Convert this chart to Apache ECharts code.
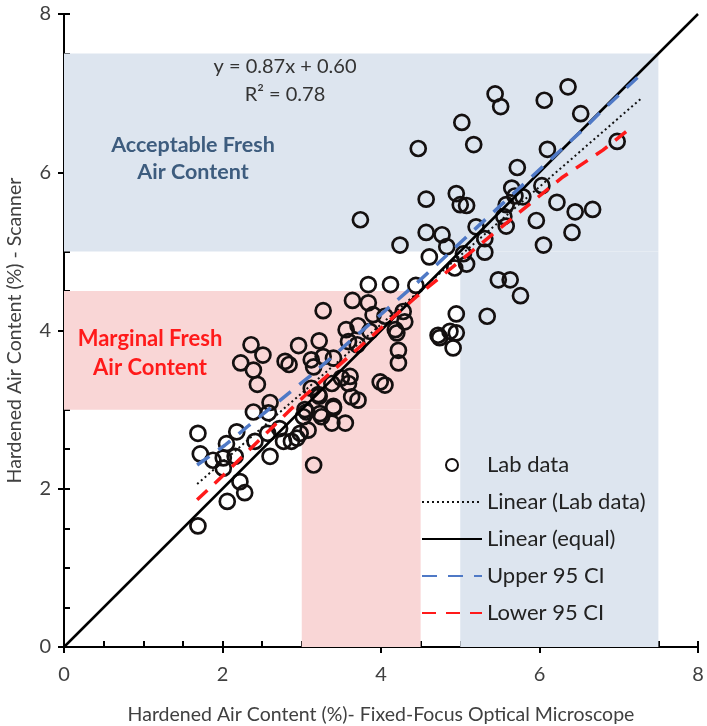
<!DOCTYPE html>
<html>
<head>
<meta charset="utf-8">
<script src="https://cdn.jsdelivr.net/npm/echarts@6/dist/echarts.min.js"></script>
<style>
html,body{margin:0;padding:0;background:#fff;}
#chart{width:707px;height:726px;}
</style>
</head>
<body>
<div id="chart"></div>
<script>
// ---- data ----
const labX = [1.69,1.72,1.88,2.01,2.05,2.01,2.16,2.18,2.22,2.28,2.06,1.69,2.41,2.57,2.60,2.72,2.77,2.87,2.94,2.98,
  3.02,3.04,3.08,3.15,3.12,3.21,3.23,3.40,3.38,3.38,2.44,2.60,2.39,2.58,2.36,2.51,2.23,2.39,
  3.84,4.12,4.44,3.27,3.64,3.84,3.90,4.05,4.28,4.30,4.18,4.20,3.56,3.71,3.86,3.59,3.70,3.22,2.96,2.79,2.84,3.12,
  3.15,3.27,3.40,4.22,4.22,3.50,3.61,3.59,3.99,4.05,3.22,3.63,3.71,3.40,3.25,3.06,3.55,
  5.44,5.51,6.06,6.36,6.52,5.02,4.47,5.17,6.10,6.98,5.72,4.57,4.95,5.00,5.08,5.65,5.69,5.79,6.03,5.58,
  6.22,6.45,6.67,5.55,5.58,5.96,6.41,4.57,4.77,5.20,5.31,6.05,4.24,4.83,3.74,4.61,4.93,5.08,5.04,5.31,
  5.48,5.63,5.76,4.95,5.34,4.72,4.74,4.87,4.95,4.91];
const labY = [2.70,2.44,2.36,2.39,2.57,2.26,2.41,2.72,2.09,1.95,1.84,1.53,2.60,2.70,2.41,2.76,2.60,2.60,2.64,2.70,
  2.91,3.00,2.74,2.30,3.27,3.19,2.95,3.02,2.83,3.33,3.32,3.09,2.97,2.96,3.82,3.69,3.59,3.50,
  4.58,4.58,4.57,4.25,4.38,4.35,4.20,4.18,4.24,4.11,4.01,3.97,4.01,4.06,3.99,3.86,3.82,3.87,3.81,3.61,3.57,3.63,
  3.54,3.67,3.65,3.75,3.59,3.40,3.42,3.33,3.35,3.31,3.17,3.16,3.12,3.04,2.91,2.97,2.83,
  6.99,6.83,6.91,7.08,6.74,6.63,6.30,6.35,6.29,6.39,6.06,5.66,5.73,5.59,5.58,5.80,5.70,5.69,5.83,5.59,
  5.62,5.50,5.53,5.44,5.32,5.39,5.24,5.24,5.21,5.31,5.16,5.08,5.08,5.06,5.40,4.93,4.79,4.84,4.97,4.99,
  4.64,4.64,4.44,4.21,4.18,3.94,3.91,3.99,3.97,3.78];

const fitX = [1.68, 7.28];
const fitY = [2.06, 6.93];
const equalX = [0, 8];
const equalY = [0, 8];
const upperX = [1.68, 2.03, 2.32, 3.10, 4.43, 5.54, 6.55, 6.76, 7.27];
const upperY = [2.30, 2.55, 2.79, 3.42, 4.58, 5.61, 6.54, 6.75, 7.23];
const lowerX = [1.68, 2.01, 2.51, 3.02, 4.45, 6.28, 6.80, 7.19];
const lowerY = [1.86, 2.17, 2.66, 3.16, 4.43, 5.93, 6.28, 6.59];

// zones: [x1, y1, x2, y2]
const acceptableZones = [[0, 5, 7.5, 7.5], [5, 0, 7.5, 5]];
const marginalZones = [[0, 3, 4.5, 4.5], [3, 0, 4.5, 3]];

const xTicks = [0, 2, 4, 6, 8];
const yTicks = [0, 2, 4, 6, 8];

const seriesNames = ['Lab data', 'Linear (Lab data)', 'Linear (equal)', 'Upper 95 CI', 'Lower 95 CI'];
const equationText = 'y = 0.87x + 0.60';
const r2Text = 'R\u00B2 = 0.78';
const acceptableText = 'Acceptable Fresh\nAir Content';
const marginalText = 'Marginal Fresh\nAir Content';
const xTitle = 'Hardened Air Content (%)- Fixed-Focus Optical Microscope';
const yTitle = 'Hardened Air Content (%) - Scanner';

// ---- build ----
const zip = (a, b) => a.map((v, i) => [v, b[i]]);
const zoneData = (zones, color) => zones.map(z => [
  { coord: [z[0], z[1]], itemStyle: { color: color } },
  { coord: [z[2], z[3]] }
]);

const FONT = 'Lato';
const chart = echarts.init(document.getElementById('chart'), null, { renderer: 'canvas' });

const axisCommon = {
  min: 0, max: 8, interval: 2,
  axisLine: { show: true, lineStyle: { color: '#000', width: 2 } },
  axisTick: { show: true, inside: false, length: 6, lineStyle: { color: '#000', width: 2 } },
  splitLine: { show: false },
  nameTextStyle: { fontFamily: FONT, fontSize: 19.5, color: '#404040' },
  nameLocation: 'middle'
};
const minorAxis = {
  min: 0, max: 8, interval: 0.5,
  axisLine: { show: false },
  axisTick: { show: true, inside: true, length: 6, lineStyle: { color: '#000', width: 2 } },
  axisLabel: { show: false },
  splitLine: { show: false }
};

const lineLegend = name => ({ name: name, itemStyle: { opacity: 0, color: 'rgba(0,0,0,0)', borderWidth: 0 } });

chart.setOption({
  animation: false,
  backgroundColor: '#fff',
  grid: { left: 64, right: 9, top: 14, bottom: 79, containLabel: false, outerBoundsMode: 'none' },
  xAxis: [
    Object.assign({}, axisCommon, { type: 'value', position: 'bottom', name: xTitle, nameGap: 58,
      axisLabel: { fontFamily: FONT, fontSize: 20, color: '#404040', margin: 18,
        formatter: v => xTicks.includes(v) ? String(v) : '' } }),
    Object.assign({}, minorAxis, { type: 'value', position: 'bottom' })
  ],
  yAxis: [
    Object.assign({}, axisCommon, { type: 'value', position: 'left', name: yTitle, nameGap: 39,
      axisLabel: { fontFamily: FONT, fontSize: 20, color: '#404040', margin: 13,
        formatter: v => yTicks.includes(v) ? String(v) : '' } }),
    Object.assign({}, minorAxis, { type: 'value', position: 'left' })
  ],
  legend: {
    orient: 'vertical', left: 421, top: 454, padding: 0, itemGap: 15, itemWidth: 60, itemHeight: 12,
    textStyle: { fontFamily: FONT, fontSize: 22, color: '#222' },
    data: [seriesNames[0]].concat(seriesNames.slice(1).map(lineLegend))
  },
  graphic: [
    { type: 'text', z: 100, x: 285, y: 67, style: { text: equationText, font: '20px Lato', fill: '#333', align: 'center', verticalAlign: 'middle' } },
    { type: 'text', z: 100, x: 285, y: 95, style: { text: r2Text, font: '20px Lato', fill: '#333', align: 'center', verticalAlign: 'middle' } },
    { type: 'text', z: 100, x: 193, y: 159, style: { text: acceptableText, font: 'bold 21.5px Lato', fill: '#3d5c7e', align: 'center', verticalAlign: 'middle', lineHeight: 27 } },
    { type: 'text', z: 100, x: 150, y: 353, style: { text: marginalText, font: 'bold 22px Lato', fill: '#ff1a1a', align: 'center', verticalAlign: 'middle', lineHeight: 29 } }
  ],
  series: [
    { name: 'zones', type: 'scatter', data: [], z: 1, silent: true,
      markArea: { silent: true, data: zoneData(acceptableZones, '#dde5ef').concat(zoneData(marginalZones, '#f9d6d6')) } },
    { name: seriesNames[0], type: 'scatter', z: 3, symbol: 'circle', symbolSize: 15,
      itemStyle: { color: 'rgba(0,0,0,0)', borderColor: '#141010', borderWidth: 2.7, opacity: 1 },
      data: zip(labX, labY) },
    { name: seriesNames[1], type: 'line', z: 4, symbol: 'none', silent: true,
      lineStyle: { color: '#111', width: 2, type: [2, 3] }, data: zip(fitX, fitY) },
    { name: seriesNames[2], type: 'line', z: 4, symbol: 'none', silent: true,
      lineStyle: { color: '#000', width: 2.5 }, data: zip(equalX, equalY) },
    { name: seriesNames[3], type: 'line', z: 4, symbol: 'none', silent: true,
      lineStyle: { color: '#4f79c6', width: 3.5, type: [15, 11] }, data: zip(upperX, upperY) },
    { name: seriesNames[4], type: 'line', z: 4, symbol: 'none', silent: true,
      lineStyle: { color: '#ff1a1a', width: 3.5, type: [14, 10] }, data: zip(lowerX, lowerY) }
  ]
});
</script>
</body>
</html>
